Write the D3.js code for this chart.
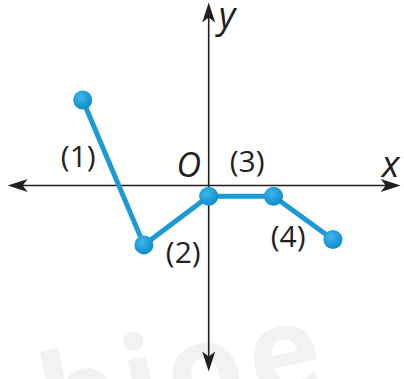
<!DOCTYPE html>
<html lang="en">
    <head>
        <meta charset="utf-8">
        <title>Piecewise graph</title>
        <script type="text/javascript" src="https://cdn.jsdelivr.net/npm/d3@7"></script>
        <style>
            body { margin: 0; background: #fff; }
        </style>
    </head>
    <body>
        <script type="text/javascript">

            //Width and height
            var w = 404;
            var h = 379;

            //Points of the graph, in axis units
            var xValues = [-2.1, -1.08, 0, 1.08, 2.07];
            var yValues = [1.425, -0.99, -0.18, -0.18, -0.9];

            //Segment labels
            var segmentLabels = ["(1)", "(2)", "(3)", "(4)"];
            var axisNames = ["x", "y"];
            var originLabel = "O";

            var dataset = xValues.map(function(x, i) {
                return { x: x, y: yValues[i] };
            });

            //Scales
            var xScale = d3.scaleLinear()
                        .domain([-3.35, 3.2])
                        .range([7.7, 400.7]);

            var yScale = d3.scaleLinear()
                        .domain([-3.1, 3.05])
                        .range([371.5, 2.5]);

            var ink = "#231f20";
            var blue = "#1b9ad6";

            //Create SVG element
            var svg = d3.select("body")
                        .append("svg")
                        .attr("width", w)
                        .attr("height", h);

            var defs = svg.append("defs");
            var grad = defs.append("radialGradient")
                        .attr("id", "dot")
                        .attr("cx", "40%")
                        .attr("cy", "35%")
                        .attr("r", "65%");
            grad.append("stop").attr("offset", "0%").attr("stop-color", "#3db6ea");
            grad.append("stop").attr("offset", "100%").attr("stop-color", "#0f8bcb");

            //Faint watermark at the bottom, clipped by the page edge like the original
            svg.append("text")
                .attr("transform", "translate(50,446) rotate(-12)")
                .attr("font-family", "'Open Sans', sans-serif")
                .attr("font-weight", "bold")
                .attr("font-size", "124px")
                .attr("letter-spacing", "6px")
                .attr("fill", "#f2f2f2")
                .text("bioe");

            //Axes
            var x0 = xScale(0), y0 = yScale(0);
            var xMin = xScale.range()[0], xMax = xScale.range()[1];
            var yTop = yScale.range()[1], yBot = yScale.range()[0];

            svg.append("line")
                .attr("x1", xMin + 10).attr("x2", xMax - 10)
                .attr("y1", y0).attr("y2", y0)
                .attr("stroke", ink).attr("stroke-width", 1.6);

            svg.append("line")
                .attr("x1", x0).attr("x2", x0)
                .attr("y1", yTop + 10).attr("y2", yBot - 10)
                .attr("stroke", ink).attr("stroke-width", 1.6);

            //Arrowheads, pointing right before rotation
            var arrow = "M0,0 L-20,-6.5 L-15,0 L-20,6.5 Z";
            var tips = [
                [xMax, y0, 0],
                [xMin, y0, 180],
                [x0, yTop, -90],
                [x0, yBot, 90]
            ];
            svg.selectAll("path.arrow")
                .data(tips)
                .enter()
                .append("path")
                .attr("class", "arrow")
                .attr("d", arrow)
                .attr("fill", ink)
                .attr("transform", function(d) {
                    return "translate(" + d[0] + "," + d[1] + ") rotate(" + d[2] + ")";
                });

            //Axis names and origin
            svg.append("text")
                .attr("x", xMax - 19).attr("y", y0 - 9)
                .attr("font-family", "'Open Sans', sans-serif")
                .attr("font-style", "italic")
                .attr("font-size", "37px")
                .attr("fill", ink)
                .text(axisNames[0]);

            svg.append("text")
                .attr("x", x0 + 10).attr("y", yTop + 25)
                .attr("font-family", "'Open Sans', sans-serif")
                .attr("font-style", "italic")
                .attr("font-size", "36px")
                .attr("fill", ink)
                .text(axisNames[1]);

            svg.append("text")
                .attr("x", x0 - 20).attr("y", y0 - 9)
                .attr("text-anchor", "middle")
                .attr("font-family", "'Open Sans', sans-serif")
                .attr("font-style", "italic")
                .attr("font-size", "34px")
                .attr("fill", ink)
                .text(originLabel);

            //Graph line
            var line = d3.line()
                        .x(function(d) { return xScale(d.x); })
                        .y(function(d) { return yScale(d.y); });

            svg.append("path")
                .datum(dataset)
                .attr("d", line)
                .attr("fill", "none")
                .attr("stroke", blue)
                .attr("stroke-width", 5)
                .attr("stroke-linejoin", "round");

            //Points
            svg.selectAll("circle")
                .data(dataset)
                .enter()
                .append("circle")
                .attr("cx", function(d) { return xScale(d.x); })
                .attr("cy", function(d) { return yScale(d.y); })
                .attr("r", 9.5)
                .attr("fill", "url(#dot)");

            //Segment labels, offset from each segment's midpoint
            var labelOffsets = [[-35, -5], [7, 42], [6, -24], [-15, 29]];
            svg.selectAll("text.seg")
                .data(segmentLabels)
                .enter()
                .append("text")
                .attr("class", "seg")
                .attr("x", function(d, i) {
                    return (xScale(dataset[i].x) + xScale(dataset[i + 1].x)) / 2 + labelOffsets[i][0];
                })
                .attr("y", function(d, i) {
                    return (yScale(dataset[i].y) + yScale(dataset[i + 1].y)) / 2 + labelOffsets[i][1];
                })
                .attr("text-anchor", "middle")
                .attr("font-family", "'Open Sans', sans-serif")
                .attr("font-size", "30px")
                .attr("fill", ink)
                .text(function(d) { return d; });

        </script>
    </body>
</html>
